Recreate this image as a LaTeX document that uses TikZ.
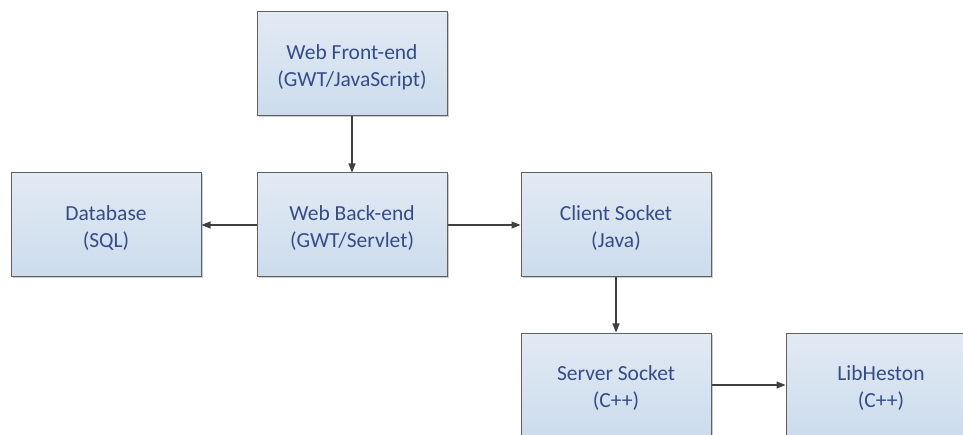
\documentclass[tikz,border=0pt]{standalone}
\usepackage{fontspec}
\setmainfont{Carlito}
\usetikzlibrary{arrows.meta,shadows}
\definecolor{boxtop}{HTML}{E2EAF4}
\definecolor{boxbot}{HTML}{CCDCEC}
\definecolor{boxline}{HTML}{606060}
\definecolor{boxtext}{HTML}{354C8C}
\definecolor{linkcol}{HTML}{404040}
\tikzset{
  block/.style={draw=boxline, line width=1pt, top color=boxtop, bottom color=boxbot,
    minimum width=190pt, minimum height=104pt, inner sep=0pt, align=center,
    text=boxtext, font=\fontsize{21.5}{27}\selectfont,
    drop shadow={shadow xshift=1.5pt, shadow yshift=-1.5pt, fill=black, opacity=0.2}},
  % the two text lines sit a little below the middle of each box
  caption/.style={text=boxtext, align=center, inner sep=0pt,
    font=\fontsize{21.5}{27}\selectfont, yshift=-3pt},
  link/.style={draw=linkcol, line width=1.1pt, -{Triangle[length=9pt,width=7pt]}}
}
\begin{document}
\begin{tikzpicture}[x=1pt,y=-1pt]
\useasboundingbox (0,0) rectangle (963,435);
\clip (0,0) rectangle (963,435);
\node[block] (front)  at (352,64)  {};
\node[block] (db)     at (106,225) {};
\node[block] (back)   at (352,225) {};
\node[block] (client) at (616,225) {};
\node[block] (server) at (616,385) {};
\node[block] (lib)    at (881,385) {};
\node[caption] (frontT)  at (front)  {Web Front-end\\(GWT/JavaScript)};
\node[caption] (dbT)     at (db)     {Database\\(SQL)};
\node[caption] (backT)   at (back)   {Web Back-end\\(GWT/Servlet)};
\node[caption] (clientT) at (client) {Client Socket\\(Java)};
\node[caption] (serverT) at (server) {Server Socket\\(C++)};
\node[caption] (libT)    at (lib)    {LibHeston\\(C++)};
\draw[link] (front) -- (back);
\draw[link] (back) -- (db);
\draw[link] (back) -- (client);
\draw[link] (client) -- (server);
\draw[link] (server) -- (lib);
\end{tikzpicture}
\end{document}
